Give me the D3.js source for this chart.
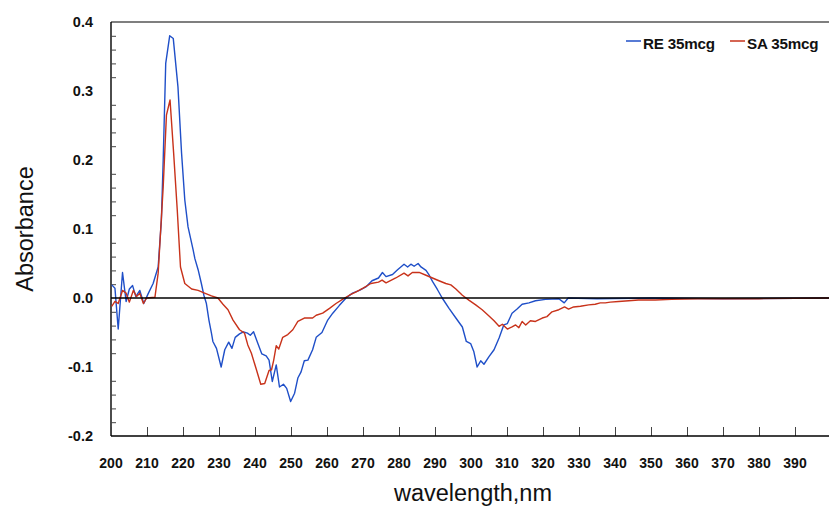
<!DOCTYPE html>
<html>
<head>
<meta charset="utf-8">
<script src="https://cdn.jsdelivr.net/npm/d3@7"></script>
<style>
  html, body { margin: 0; padding: 0; background: #fff; }
  svg { display: block; font-family: "Liberation Sans", Arial, Helvetica, sans-serif; }
</style>
</head>
<body>
<svg id="chart" width="829" height="507"></svg>
<script>
// Difference absorbance spectra, 200–400 nm
const seriesNames = ["RE 35mcg", "SA 35mcg"];
const seriesColors = ["#1f4fc8", "#c8321a"];

const reWavelength = [
  200.2, 201.1, 202.0, 203.2, 204.2, 205.1, 206.0, 206.9, 208.0, 209.1, 210.3, 211.7,
  213.1, 214.0, 214.5, 215.2, 216.3, 217.3, 218.6, 219.6, 220.5, 221.4, 222.8, 223.3,
  224.2, 225.1, 225.8, 226.5, 227.2, 227.9, 228.3, 229.3, 230.6, 231.6, 232.7, 233.6,
  234.5, 235.7, 236.8, 237.9, 238.7, 239.6, 240.8, 241.9, 243.1, 243.9, 244.8, 245.9,
  246.8, 247.9, 248.8, 249.9, 251.0, 251.9, 252.8, 253.7, 254.7, 256.0, 257.0, 258.6,
  260.2, 261.6, 263.4, 265.3, 267.1, 269.0, 270.8, 272.5, 274.3, 275.4, 276.4, 278.2,
  279.6, 281.4, 282.4, 283.3, 284.2, 285.3, 286.1, 287.5, 288.4, 289.3, 290.7, 292.0,
  293.9, 295.8, 297.6, 298.7, 299.9, 300.8, 301.7, 302.7, 303.6, 305.0, 306.4, 307.8,
  309.1, 310.1, 311.4, 312.8, 314.2, 316.1, 317.9, 320.7, 324.4, 325.9, 327.0, 335.0,
  350.0, 370.0, 400.0
];
const reAbsorbance = [
  0.019, 0.014, -0.045, 0.037, -0.005, 0.013, 0.018, 0.002, 0.011, -0.008, 0.006, 0.021,
  0.045, 0.113, 0.200, 0.340, 0.380, 0.376, 0.306, 0.210, 0.142, 0.103, 0.070, 0.057,
  0.041, 0.021, 0.004, -0.008, -0.032, -0.051, -0.063, -0.073, -0.100, -0.075, -0.064, -0.073,
  -0.057, -0.052, -0.049, -0.051, -0.054, -0.049, -0.066, -0.081, -0.084, -0.090, -0.121, -0.097,
  -0.129, -0.125, -0.131, -0.150, -0.138, -0.116, -0.107, -0.091, -0.090, -0.075, -0.057, -0.050,
  -0.032, -0.022, -0.011, 0.000, 0.007, 0.011, 0.016, 0.025, 0.029, 0.037, 0.031, 0.034,
  0.041, 0.049, 0.045, 0.049, 0.046, 0.050, 0.045, 0.040, 0.033, 0.024, 0.012, 0.000,
  -0.015, -0.029, -0.042, -0.063, -0.066, -0.078, -0.100, -0.091, -0.096, -0.085, -0.075, -0.058,
  -0.039, -0.037, -0.022, -0.016, -0.009, -0.007, -0.004, -0.002, -0.001, -0.007, 0.000, -0.001,
  0.000, -0.001, 0.000
];

const saWavelength = [
  200.2, 201.1, 202.0, 203.2, 204.2, 205.1, 206.2, 207.1, 208.0, 209.0, 209.9, 212.2,
  213.1, 214.5, 215.4, 216.4, 217.4, 218.4, 219.3, 220.5, 222.4, 224.2, 226.0, 227.9,
  229.7, 231.1, 232.5, 233.9, 235.7, 237.1, 238.0, 239.0, 240.4, 241.6, 242.7, 243.9,
  244.6, 245.2, 245.9, 246.6, 247.7, 249.1, 250.5, 251.9, 253.7, 256.0, 257.0, 258.8,
  260.7, 262.5, 264.3, 266.2, 268.1, 269.9, 272.2, 274.3, 275.3, 276.4, 279.1, 281.4,
  282.5, 283.7, 285.6, 287.5, 289.3, 291.1, 293.0, 294.4, 295.8, 297.6, 299.4, 301.3,
  303.1, 305.0, 306.4, 307.8, 308.7, 310.1, 311.4, 312.4, 313.3, 314.2, 315.2, 316.5,
  317.9, 319.8, 321.1, 322.5, 324.4, 326.0, 327.1, 328.5, 330.4, 332.7, 334.5, 335.9,
  337.3, 338.7, 341.0, 343.8, 346.5, 351.2, 355.7, 363.0, 380.0, 400.0
];
const saAbsorbance = [
  -0.012, -0.005, -0.008, 0.011, 0.007, -0.006, 0.011, 0.002, 0.007, -0.008, 0.000, 0.001,
  0.036, 0.161, 0.265, 0.287, 0.210, 0.128, 0.045, 0.021, 0.013, 0.011, 0.007, 0.003,
  0.000, -0.009, -0.017, -0.032, -0.046, -0.051, -0.068, -0.080, -0.104, -0.125, -0.124, -0.105,
  -0.104, -0.090, -0.069, -0.074, -0.057, -0.053, -0.046, -0.034, -0.029, -0.029, -0.025, -0.022,
  -0.015, -0.008, -0.002, 0.004, 0.009, 0.014, 0.021, 0.023, 0.026, 0.022, 0.029, 0.036,
  0.032, 0.037, 0.037, 0.033, 0.029, 0.025, 0.021, 0.019, 0.013, 0.004, -0.003, -0.010,
  -0.017, -0.026, -0.033, -0.041, -0.038, -0.045, -0.042, -0.039, -0.043, -0.034, -0.039, -0.033,
  -0.034, -0.029, -0.027, -0.020, -0.017, -0.013, -0.016, -0.013, -0.012, -0.010, -0.009, -0.007,
  -0.007, -0.006, -0.005, -0.004, -0.003, -0.003, -0.002, -0.001, -0.001, 0.000
];

const xTickValues = d3.range(200, 400, 10);          // 200 … 390
const yTickValues = [0.4, 0.3, 0.2, 0.1, 0.0, -0.1, -0.2];
const yTickLabels = ["0.4", "0.3", "0.2", "0.1", "0.0", "-0.1", "-0.2"];
const yMinorValues = d3.range(-0.2, 0.4001, 0.02)
  .filter(v => Math.abs(Math.round(v * 10) - v * 10) > 1e-6);

const svg = d3.select("#chart");
const plotLeft = 111, plotRight = 831, plotTop = 22, plotBottom = 436;

const x = d3.scaleLinear().domain([200, 400]).range([plotLeft, plotRight]);
const y = d3.scaleLinear().domain([-0.2, 0.4]).range([plotBottom, plotTop]);

// Plot frame: left and top edges
svg.append("line").attr("x1", plotLeft).attr("x2", plotLeft).attr("y1", plotTop).attr("y2", plotBottom)
  .attr("stroke", "#000").attr("stroke-width", 1.4);
svg.append("line").attr("x1", plotLeft).attr("x2", 829).attr("y1", plotTop).attr("y2", plotTop)
  .attr("stroke", "#000").attr("stroke-width", 1.2);

// Y axis: inward minor ticks, labels at the major values
const yAxis = d3.axisRight(y).tickValues(yMinorValues).tickSize(5).tickFormat("");
svg.append("g").attr("transform", `translate(${plotLeft},0)`).call(yAxis)
  .call(g => g.select(".domain").remove())
  .call(g => g.selectAll(".tick line").attr("stroke", "#444").attr("stroke-width", 1));

svg.append("g").selectAll("text").data(yTickValues).join("text")
  .attr("x", 93).attr("y", d => y(d) + 5)
  .attr("text-anchor", "end")
  .attr("font-size", 14.5).attr("font-weight", "bold").attr("fill", "#111")
  .text((d, i) => yTickLabels[i]);

// X axis along the bottom edge, ticks pointing into the plot
const xAxis = d3.axisTop(x).tickValues(xTickValues).tickSize(9).tickFormat("");
svg.append("g").attr("transform", `translate(0,${plotBottom})`).call(xAxis)
  .call(g => g.select(".domain").remove())
  .call(g => g.selectAll(".tick line").attr("stroke", "#444").attr("stroke-width", 1));
svg.append("line").attr("x1", plotLeft).attr("x2", 829).attr("y1", plotBottom).attr("y2", plotBottom)
  .attr("stroke", "#000").attr("stroke-width", 1.4);

svg.append("g").selectAll("text").data(xTickValues).join("text")
  .attr("x", d => x(d)).attr("y", 468)
  .attr("text-anchor", "middle")
  .attr("font-size", 14).attr("font-weight", "bold").attr("fill", "#111")
  .text(d => d);

// Spectra
const line = d3.line().x(d => x(d[0])).y(d => y(d[1]));
const series = [
  d3.zip(reWavelength, reAbsorbance),
  d3.zip(saWavelength, saAbsorbance)
];
svg.append("g").selectAll("path").data(series).join("path")
  .attr("d", line)
  .attr("fill", "none")
  .attr("stroke", (d, i) => seriesColors[i])
  .attr("stroke-width", 1.4)
  .attr("stroke-linejoin", "round");

// Zero baseline
svg.append("line").attr("x1", plotLeft).attr("x2", 829).attr("y1", y(0)).attr("y2", y(0))
  .attr("stroke", "#000").attr("stroke-width", 1.4);

// Axis titles
svg.append("text").attr("x", 473).attr("y", 501).attr("text-anchor", "middle")
  .attr("font-size", 23.5).attr("fill", "#111").text("wavelength,nm");
svg.append("text").attr("transform", "translate(33,229) rotate(-90)")
  .attr("text-anchor", "middle").attr("font-size", 23.5).attr("fill", "#111")
  .text("Absorbance");

// Legend
const legendX = [626, 730];
const legend = svg.append("g").selectAll("g").data(seriesNames).join("g")
  .attr("transform", (d, i) => `translate(${legendX[i]},41)`);
legend.append("line").attr("x1", 0).attr("x2", 15).attr("y1", 0).attr("y2", 0)
  .attr("stroke", (d, i) => seriesColors[i]).attr("stroke-width", 2).attr("opacity", 0.75);
legend.append("text").attr("x", 17).attr("y", 7.8)
  .attr("font-size", 15.2).attr("font-weight", "bold").attr("fill", "#111")
  .attr("letter-spacing", -0.2)
  .text(d => d);
</script>
</body>
</html>
